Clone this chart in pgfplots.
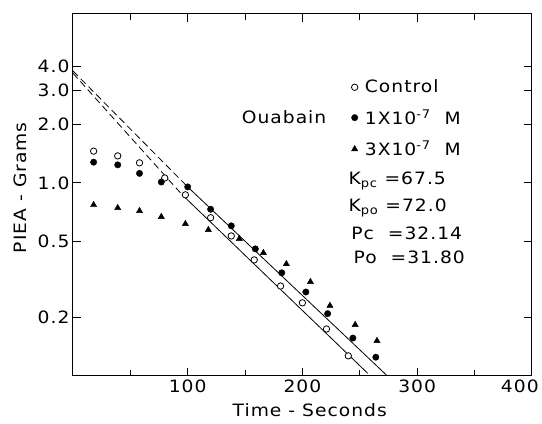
\documentclass[border=0pt]{standalone}
\usepackage{fontspec}
\setmainfont{DejaVu Sans}[FakeStretch=1.1,LetterSpace=6]
\usepackage{pgfplots}
\pgfplotsset{compat=1.18}

\begin{document}
\begin{tikzpicture}[font=\fontsize{17bp}{20bp}\selectfont]
\begin{axis}[
  scale only axis,
  width=459bp, height=362bp,
  ymode=log,
  xmin=0, xmax=400, ymin=0.1, ymax=7.5,
  xtick={100,200,300},
  extra x ticks={400},
  extra x tick style={xticklabel style={xshift=-12bp}},
  minor xtick={50,150,250,350},
  ytick={0.2,0.5,1,2,3,4},
  yticklabels={0.2,0.5,1.0,2.0,3.0,4.0},
  minor ytick={},
  tick align=inside,
  major tick length=8bp, minor tick length=6bp,
  every tick/.style={black, line width=0.8bp},
  axis line style={line width=1bp},
  /pgf/number format/assume math mode=true,
  xticklabel style={font=\fontsize{17bp}{20bp}\selectfont},
  yticklabel style={font=\fontsize{17bp}{20bp}\selectfont, xshift=0bp},
  xlabel={Time - Seconds},
  ylabel={PIEA - Grams},
  xlabel style={at={(axis description cs:0.516,-0.095)}, anchor=center},
  ylabel style={at={(axis description cs:-0.115,0.52)}, anchor=center},
  legend style={at={(rel axis cs:0.600,0.829)}, anchor=north west,
    draw=none, fill=none, row sep=11bp,
    /tikz/every odd column/.append style={column sep=5bp},
    font=\fontsize{17bp}{20bp}\selectfont},
  legend cell align=left,
]
% control
\addplot[only marks, mark=*, mark size=3.2bp, mark options={fill=white, draw=black, line width=0.8bp}]
table {
18 1.46
39 1.38
58 1.27
80 1.06
98 0.867
120 0.66
138 0.531
158 0.399
181 0.292
200 0.239
221 0.175
240 0.127
};
\addlegendentry{Control}
% 1e-7 M
\addplot[only marks, mark=*, mark size=3.2bp, mark options={fill=black, draw=black}]
table {
18 1.28
39 1.24
58 1.12
77 1.01
100 0.953
120 0.73
138 0.599
159 0.455
182 0.342
203 0.272
222 0.210
244 0.157
264 0.125
};
\addlegendentry{1X10\textsuperscript{-7}\ \ M}
% 3e-7 M
\addplot[only marks, mark=triangle*, mark size=3.6bp, mark options={fill=black, draw=black}]
table {
18 0.769
39 0.742
58 0.716
77 0.667
98 0.613
118 0.571
145 0.513
166 0.434
186 0.380
207 0.307
224 0.231
246 0.184
265 0.152
};
\addlegendentry{3X10\textsuperscript{-7}\ \ M}
% fitted lines
\addplot[black, line width=0.8bp, forget plot] table {
100 0.953
274 0.1
};
\addplot[black, line width=0.8bp, forget plot] table {
95 0.87
257 0.103
};
\addplot[black, line width=0.8bp, dash pattern=on 7bp off 4bp, forget plot] table {
0 3.8
100 0.953
};
\addplot[black, line width=0.8bp, dash pattern=on 7bp off 4bp, forget plot] table {
0 3.7
95 0.87
};
\node[anchor=center] at (rel axis cs:0.46,0.715) {Ouabain};
\node[anchor=west] at (rel axis cs:0.593,0.539) {K\textsubscript{pc} =67.5};
\node[anchor=west] at (rel axis cs:0.593,0.464) {K\textsubscript{po} =72.0};
\node[anchor=west] at (rel axis cs:0.599,0.395) {Pc\ \ =32.14};
\node[anchor=west] at (rel axis cs:0.604,0.329) {Po\ \ =31.80};
\end{axis}
\path ([shift={(-73bp,-48bp)}]current axis.south west) rectangle ([shift={(10bp,14bp)}]current axis.north east);
\end{tikzpicture}
\end{document}
